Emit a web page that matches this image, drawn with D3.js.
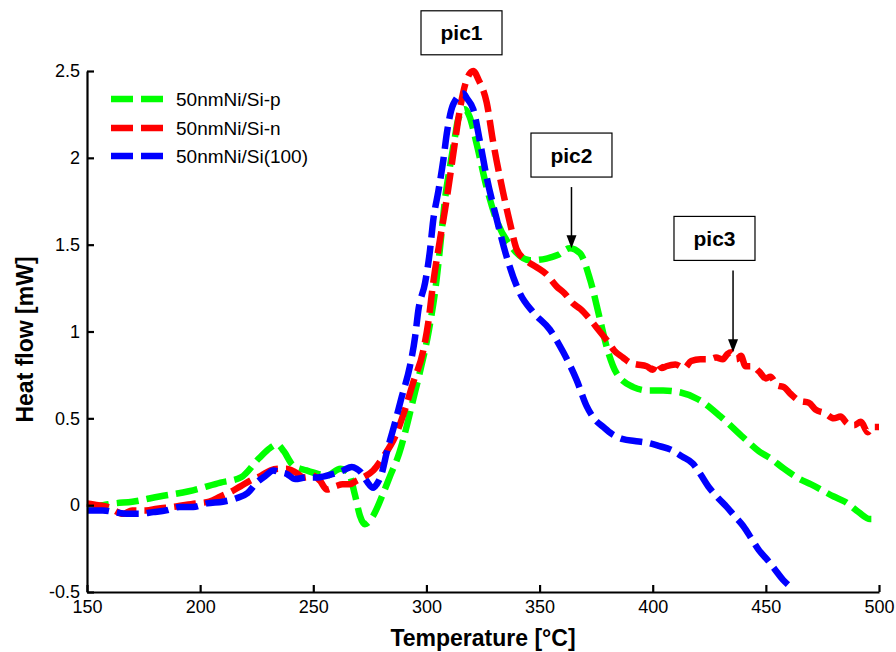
<!DOCTYPE html>
<html>
<head>
<meta charset="utf-8">
<script src="https://cdn.jsdelivr.net/npm/d3@7"></script>
<style>
  html, body { margin: 0; padding: 0; background: #fff; }
  svg { display: block; font-family: "Liberation Sans", Arial, sans-serif; }
</style>
</head>
<body>
<svg id="chart" width="896" height="652"></svg>
<script>
// ---------- data ----------
const seriesNames = ["50nmNi/Si-p", "50nmNi/Si-n", "50nmNi/Si(100)"];
const seriesColors = ["#00ff00", "#ff0000", "#0000ff"];

const xTicks = [150, 200, 250, 300, 350, 400, 450, 500];
const yTicks = [-0.5, 0, 0.5, 1, 1.5, 2, 2.5];

const greenT = [150,157,162,170,182,195,209,218,226,231,234,237,241,247,252,256,262,265.5,268.4,270.6,272.8,276.5,280,284,288,291,294,297,301,304.5,306.7,308.2,310.4,312.6,314,317,319,322.2,326.6,331,338,345.8,353,358,363.4,367.9,372.3,376.7,379.7,384,391.4,398,404.6,412,420,430,440,447,452,458,465,470,480,485,491,496,500];
const greenQ = [-0.01,0.0,0.01,0.02,0.05,0.08,0.13,0.16,0.27,0.33,0.35,0.31,0.23,0.20,0.18,0.17,0.21,0.19,0.06,-0.06,-0.11,-0.06,0.04,0.17,0.30,0.44,0.60,0.76,1.0,1.3,1.57,1.76,1.95,2.12,2.22,2.28,2.24,2.08,1.83,1.64,1.48,1.41,1.42,1.44,1.48,1.45,1.30,1.07,0.91,0.76,0.68,0.66,0.66,0.65,0.61,0.51,0.39,0.31,0.27,0.21,0.15,0.12,0.05,0.02,-0.04,-0.08,-0.08];

const redT = [150,155,159,166,170,176,181,188,198,204,209,214,218,223.5,227,231,235,238,242,246,250,253,256,260,263,266,269,272,276.5,281,286,290.5,294,298.6,300.8,303,306,308.2,310.4,312.6,314.8,317.8,320.7,323,326.6,329.5,333.9,337,340,344,348.7,353,357.5,361,364.9,368,372.3,376,379.7,383,386.9,390,393,397.3,400,402,404,406,410,414,417,421,425,428,431,433,435,437,439,441,444,447,450,452,455,458,461,465,469,472,476,480,483,486,489,492,495,497,500];
const redQ = [0.01,0.0,-0.01,-0.05,-0.03,-0.03,-0.02,-0.01,0.01,0.02,0.05,0.08,0.11,0.15,0.17,0.20,0.21,0.21,0.19,0.16,0.17,0.14,0.09,0.11,0.12,0.12,0.14,0.16,0.20,0.28,0.39,0.55,0.70,0.89,1.05,1.28,1.53,1.70,1.89,2.09,2.28,2.45,2.50,2.45,2.32,2.09,1.80,1.62,1.47,1.41,1.37,1.33,1.26,1.22,1.16,1.13,1.07,1.01,0.95,0.89,0.85,0.82,0.81,0.80,0.78,0.82,0.79,0.80,0.81,0.79,0.83,0.84,0.84,0.85,0.84,0.87,0.88,0.84,0.86,0.80,0.80,0.77,0.73,0.74,0.69,0.68,0.64,0.60,0.59,0.55,0.53,0.50,0.51,0.47,0.46,0.48,0.42,0.45,0.45];

const blueT = [150,157,162,167.5,173,179.3,185,191,197,203,210,216,221,225,229,232.3,235,238.3,242,247,252,258.8,263.2,267,269.1,271,273.5,276.5,278,280.2,282.4,286,289,292.7,295,296.4,299.4,301.6,303,305.3,307.5,309,311.9,316.3,318,320.7,323.7,326.6,331,335,341.3,347.2,354.6,360.5,366.4,370.8,374,378.2,382,386.9,392,397.3,403,408,413,417.7,421,425,429,432.7,436,440,444,447,451,454,457.6,460];
const blueQ = [-0.03,-0.03,-0.04,-0.05,-0.05,-0.04,-0.03,-0.01,-0.01,0.01,0.02,0.04,0.07,0.13,0.17,0.20,0.19,0.18,0.15,0.16,0.16,0.18,0.20,0.22,0.21,0.19,0.14,0.10,0.12,0.18,0.30,0.47,0.62,0.80,0.97,1.12,1.28,1.47,1.64,1.81,1.99,2.14,2.31,2.37,2.34,2.28,2.09,1.89,1.65,1.45,1.22,1.11,1.01,0.88,0.72,0.57,0.50,0.45,0.41,0.38,0.37,0.36,0.34,0.32,0.28,0.24,0.18,0.10,0.04,-0.01,-0.06,-0.12,-0.20,-0.26,-0.32,-0.37,-0.43,-0.46];

// annotation labels and their data anchors (arrow tip for pic2/pic3)
const annoLabels = ["pic1", "pic2", "pic3"];
const annoBoxT = [315.5, 364.1, 427.3];
const annoBoxQ = [2.72, 2.016, 1.536];
const annoArrowT = [null, 364.1, 435.5];
const annoArrowQ = [null, 1.48, 0.88];

// ---------- chart ----------
const svg = d3.select("#chart");
const x = d3.scaleLinear().domain([150, 500]).range([87, 879]);
const y = d3.scaleLinear().domain([-0.5, 2.5]).range([592, 71]);

const series = [
  { T: greenT, Q: greenQ },
  { T: redT, Q: redQ },
  { T: blueT, Q: blueQ }
];

const line = d3.line()
  .x(d => x(d[0]))
  .y(d => y(d[1]))
  .curve(d3.curveMonotoneX);

series.forEach((s, i) => {
  const pts = s.T.map((t, k) => [t, s.Q[k]]);
  svg.append("path")
    .datum(pts)
    .attr("d", line)
    .attr("fill", "none")
    .attr("stroke", seriesColors[i])
    .attr("stroke-width", 6.5)
    .attr("stroke-dasharray", "22,8")
    .attr("stroke-linejoin", "round");
});

// axes
const xAxis = d3.axisBottom(x).tickValues(xTicks).tickSizeInner(-7).tickSizeOuter(0).tickPadding(8).tickFormat(d => String(d));
const yAxis = d3.axisLeft(y).tickValues(yTicks).tickSizeInner(-7).tickSizeOuter(0).tickPadding(7).tickFormat(d => String(d));

const gx = svg.append("g").attr("transform", `translate(0,${y(-0.5)})`).call(xAxis);
const gy = svg.append("g").attr("transform", `translate(${x(150)},0)`).call(yAxis);
[gx, gy].forEach(g => {
  g.select(".domain").attr("stroke", "#000").attr("stroke-width", 2.2);
  g.selectAll(".tick line").attr("stroke", "#000").attr("stroke-width", 2.2);
  g.selectAll(".tick text").attr("fill", "#000").style("font-size", "18px").style("font-family", "'Liberation Sans', Arial, sans-serif");
});

// axis titles
svg.append("text")
  .attr("x", (x(150) + x(500)) / 2)
  .attr("y", 646)
  .attr("text-anchor", "middle")
  .style("font-size", "23px").style("font-weight", "bold")
  .text("Temperature [°C]");

svg.append("text")
  .attr("transform", `translate(33,${(y(-0.5) + y(2.5)) / 2 + 8}) rotate(-90)`)
  .attr("text-anchor", "middle")
  .style("font-size", "23px").style("font-weight", "bold")
  .text("Heat flow [mW]");

// legend
const legendRows = [99, 128, 156];
seriesNames.forEach((name, i) => {
  svg.append("line")
    .attr("x1", 111).attr("x2", 164)
    .attr("y1", legendRows[i]).attr("y2", legendRows[i])
    .attr("stroke", seriesColors[i])
    .attr("stroke-width", 6.5)
    .attr("stroke-dasharray", "22,8");
  svg.append("text")
    .attr("x", 176).attr("y", legendRows[i] + 7)
    .style("font-size", "19px")
    .text(name);
});

// annotations
annoLabels.forEach((lab, i) => {
  const cx = x(annoBoxT[i]), cy = y(annoBoxQ[i]);
  const w = 81, h = 44;
  svg.append("rect")
    .attr("x", cx - w / 2).attr("y", cy - h / 2)
    .attr("width", w).attr("height", h)
    .attr("fill", "#fff").attr("stroke", "#000").attr("stroke-width", 1.2);
  svg.append("text")
    .attr("x", cx).attr("y", cy + 7.5)
    .attr("text-anchor", "middle")
    .style("font-size", "21px").style("font-weight", "bold")
    .text(lab);
  if (annoArrowT[i] !== null) {
    const ax = x(annoArrowT[i]);
    const tip = y(annoArrowQ[i]);
    svg.append("line")
      .attr("x1", ax).attr("x2", ax)
      .attr("y1", cy + h / 2 + 10).attr("y2", tip - 12)
      .attr("stroke", "#000").attr("stroke-width", 1.5);
    svg.append("path")
      .attr("d", `M${ax - 5},${tip - 13} L${ax + 5},${tip - 13} L${ax},${tip} Z`)
      .attr("fill", "#000");
  }
});
</script>
</body>
</html>
